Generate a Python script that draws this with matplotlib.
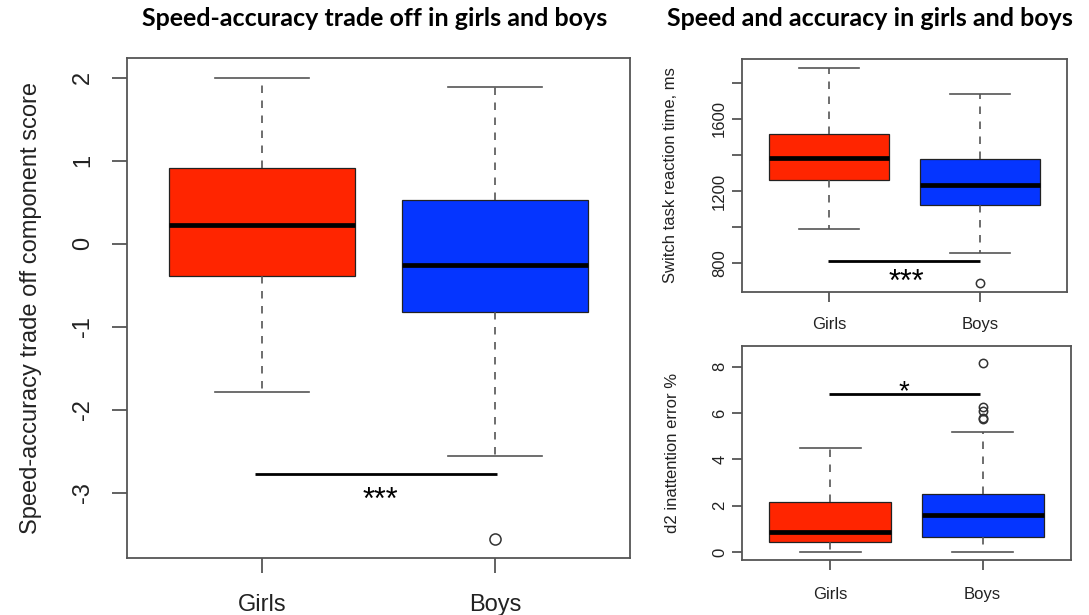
import matplotlib
matplotlib.use("Agg")
import matplotlib.pyplot as plt

# ---------------- data (whislo, q1, median, q3, whishi) ----------------
groups = ["Girls", "Boys"]
colors = ["#FF2500", "#0535FF"]

sat_girls = [-1.78, -0.39, 0.23, 0.91, 2.00]
sat_boys = [-2.56, -0.82, -0.25, 0.53, 1.89]
sat_girls_out = []
sat_boys_out = [-3.56]

rt_girls = [991, 1263, 1385, 1515, 1883]
rt_boys = [854, 1120, 1235, 1380, 1741]
rt_girls_out = []
rt_boys_out = [687]

d2_girls = [0.0, 0.42, 0.86, 2.14, 4.50]
d2_boys = [0.0, 0.66, 1.58, 2.50, 5.17]
d2_girls_out = []
d2_boys_out = [5.72, 5.80, 6.10, 6.24, 8.17]

# significance bars: (x_start, x_end, y, label_x, label_y(baseline), label, size)
sat_sig = (0.97, 2.01, -2.77, 1.51, -3.19, "***", 22)
rt_sig = (0.99, 2.0, 813, 1.51, 647, "***", 22)
d2_sig = (0.99, 1.98, 6.82, 1.48, 6.6, "*", 20)

sat_yticks = [-3, -2, -1, 0, 1, 2]
rt_yticks = [800, 1000, 1200, 1400, 1600, 1800]
rt_ylabels = ["800", "", "1200", "", "1600", ""]
d2_yticks = [0, 2, 4, 6, 8]

title_left = "Speed-accuracy trade off in girls and boys"
title_right = "Speed and accuracy in girls and boys"
ylab_sat = "Speed-accuracy trade off component score"
ylab_rt = "Switch task reaction time, ms"
ylab_d2 = "d2 inattention error %"

# ---------------- figure ----------------
W, H = 1089, 615
fig = plt.figure(figsize=(W / 100, H / 100), dpi=100)
plt.rcParams["font.family"] = ["Liberation Sans", "DejaVu Sans"]

AX_COL = "#555555"
TXT_COL = "#222222"


def make_stats(vals, outs):
    lo, q1, med, q3, hi = vals
    return dict(whislo=lo, q1=q1, med=med, q3=q3, whishi=hi, fliers=outs)


def draw_panel(ax, gdata, bdata, gout, bout, ylim, yticks, ylabels, ylab,
               sig, fs, ticklen, ylabpad, xlabpad, flier_ms):
    stats = [make_stats(gdata, gout), make_stats(bdata, bout)]
    bp = ax.bxp(stats, positions=[1, 2], widths=0.8, patch_artist=True,
                showfliers=True,
                boxprops=dict(edgecolor="#222222", linewidth=0.9),
                medianprops=dict(color="black", linewidth=3.4,
                                 solid_capstyle="butt"),
                whiskerprops=dict(color=AX_COL, linewidth=1.2,
                                  linestyle=(0, (4.5, 4.5))),
                capprops=dict(color=AX_COL, linewidth=1.2),
                capwidths=0.4,
                flierprops=dict(marker="o", markerfacecolor="none",
                                markeredgecolor="#333333",
                                markersize=flier_ms, markeredgewidth=1.1))
    for patch, c in zip(bp["boxes"], colors):
        patch.set_facecolor(c)
    ax.set_xlim(0.42, 2.58)
    ax.set_ylim(*ylim)
    ax.set_xticks([1, 2])
    ax.set_xticklabels(groups)
    ax.set_yticks(yticks)
    ax.set_yticklabels(ylabels)
    for sp in ax.spines.values():
        sp.set_color(AX_COL)
        sp.set_linewidth(1.3)
    ax.tick_params(axis="both", length=ticklen, width=1.3, color=AX_COL,
                   labelsize=fs, labelcolor=TXT_COL)
    ax.tick_params(axis="y", labelrotation=90, pad=ylabpad)
    ax.tick_params(axis="x", pad=xlabpad)
    for lab in ax.get_yticklabels():
        lab.set_va("center")
    ax.set_ylabel(ylab, fontsize=fs, color=TXT_COL)
    x0, x1, y, lx, ly, txt, sfs = sig
    ax.plot([x0, x1], [y, y], color="black", linewidth=2.0,
            solid_capstyle="butt")
    ax.text(lx, ly, txt, ha="center", va="baseline", fontsize=sfs,
            color="black")


# left panel
ax1 = fig.add_axes([127 / W, 1 - 557.7 / H, (630 - 127) / W, (557.7 - 58) / H])
draw_panel(ax1, sat_girls, sat_boys, sat_girls_out, sat_boys_out,
           (-3.78, 2.237), sat_yticks, [str(t) for t in sat_yticks], ylab_sat,
           sat_sig, fs=17, ticklen=10.8, ylabpad=13, xlabpad=15, flier_ms=8)
ax1.yaxis.set_label_coords(-0.168, 0.5)

# top right
ax2 = fig.add_axes([742 / W, 1 - 292 / H, (1067 - 742) / W, (292 - 59) / H])
draw_panel(ax2, rt_girls, rt_boys, rt_girls_out, rt_boys_out,
           (639, 1933), rt_yticks, rt_ylabels, ylab_rt,
           rt_sig, fs=12, ticklen=7.2, ylabpad=3.5, xlabpad=11, flier_ms=6)
ax2.yaxis.set_label_coords(-0.196, 0.5)

# bottom right
ax3 = fig.add_axes([742 / W, 1 - 560 / H, (1071 - 742) / W, (560 - 346) / H])
draw_panel(ax3, d2_girls, d2_boys, d2_girls_out, d2_boys_out,
           (-0.35, 8.89), d2_yticks, [str(t) for t in d2_yticks], ylab_d2,
           d2_sig, fs=12, ticklen=7.2, ylabpad=3.5, xlabpad=12, flier_ms=6)
ax3.yaxis.set_label_coords(-0.189, 0.5)

# titles
fig.text(375 / W, 1 - 19 / H, title_left, ha="center", va="center",
         fontsize=18, fontweight="bold", family=["Lato", "DejaVu Sans"])
fig.text(870 / W, 1 - 19 / H, title_right, ha="center", va="center",
         fontsize=18, fontweight="bold", family=["Lato", "DejaVu Sans"])

fig.savefig("out.png", dpi=100)
